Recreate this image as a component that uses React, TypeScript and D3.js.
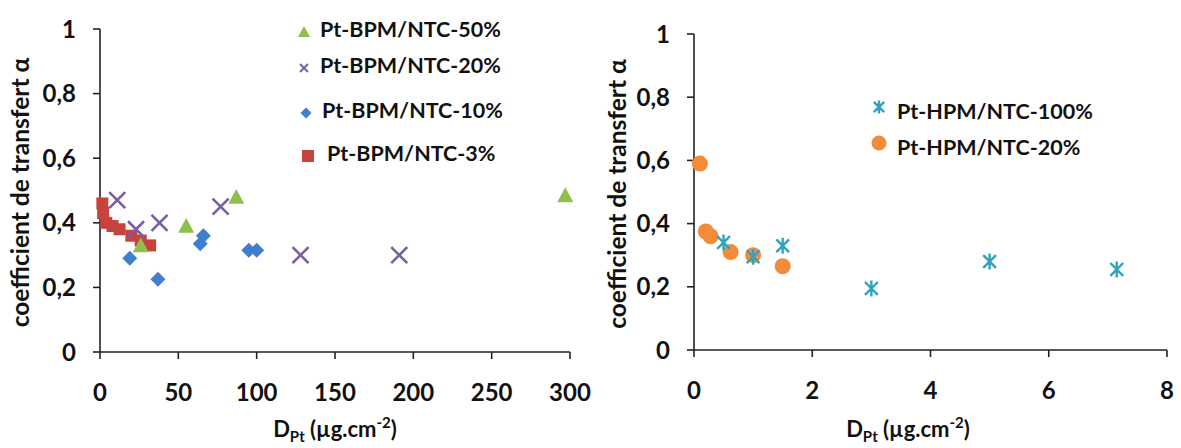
import React from "react";
import * as d3 from "d3";

// ---- Data (left panel: Pt-BPM/NTC) ----
const bpm50X = [26, 55, 87, 297];
const bpm50Y = [0.33, 0.39, 0.48, 0.485];
const bpm20X = [11, 23, 38, 77, 128, 191];
const bpm20Y = [0.47, 0.38, 0.4, 0.45, 0.3, 0.3];
const bpm10X = [19, 37, 64, 66, 95, 100];
const bpm10Y = [0.29, 0.225, 0.335, 0.36, 0.315, 0.315];
const bpm3X = [1.5, 2, 4, 8, 12.5, 20, 26, 32];
const bpm3Y = [0.46, 0.43, 0.4, 0.39, 0.38, 0.36, 0.345, 0.33];

// ---- Data (right panel: Pt-HPM/NTC) ----
const hpm100X = [0.5, 1.0, 1.5, 3.0, 5.0, 7.15];
const hpm100Y = [0.34, 0.295, 0.33, 0.195, 0.28, 0.255];
const hpm20X = [0.1, 0.2, 0.28, 0.62, 1.0, 1.5];
const hpm20Y = [0.59, 0.375, 0.36, 0.31, 0.3, 0.265];

const leftXTicks = [0, 50, 100, 150, 200, 250, 300];
const rightXTicks = [0, 2, 4, 6, 8];
const yTicks = [0, 0.2, 0.4, 0.6, 0.8, 1];

const legendLeft = ["Pt-BPM/NTC-50%", "Pt-BPM/NTC-20%", "Pt-BPM/NTC-10%", "Pt-BPM/NTC-3%"];
const legendRight = ["Pt-HPM/NTC-100%", "Pt-HPM/NTC-20%"];

const yTitle = "coefficient de transfert α";

const C = {
  green: "#8FBF4F",
  purple: "#7B5DA6",
  blue: "#3F7FCB",
  red: "#C8423F",
  teal: "#33A2BC",
  orange: "#F28B3A",
  axis: "#222",
};

const FONT = "Lato, 'Open Sans', sans-serif";

const fmt = (v: number) => (v === 0 || v === 1 ? String(v) : d3.format(".1f")(v).replace(".", ","));

type MarkerKind = "tri" | "x" | "diamond" | "square" | "star" | "circle";

function Marker({ kind, x, y, s }: { kind: MarkerKind; x: number; y: number; s: number }) {
  const h = s / 2;
  switch (kind) {
    case "tri":
      return <path d={`M${x},${y - h}L${x + h},${y + h * 0.85}L${x - h},${y + h * 0.85}Z`} fill={C.green} />;
    case "x":
      return (
        <path
          d={`M${x - h},${y - h}L${x + h},${y + h}M${x - h},${y + h}L${x + h},${y - h}`}
          stroke={C.purple}
          strokeWidth={s > 10 ? 2.6 : 2}
          fill="none"
        />
      );
    case "diamond":
      return <path d={`M${x},${y - h}L${x + h},${y}L${x},${y + h}L${x - h},${y}Z`} fill={C.blue} />;
    case "square":
      return <rect x={x - h} y={y - h} width={s} height={s} fill={C.red} />;
    case "star":
      return (
        <path
          d={`M${x - h * 0.8},${y - h * 0.8}L${x + h * 0.8},${y + h * 0.8}M${x - h * 0.8},${y + h * 0.8}L${x + h * 0.8},${y - h * 0.8}M${x},${y - h}L${x},${y + h}`}
          stroke={C.teal}
          strokeWidth={2.4}
          fill="none"
        />
      );
    case "circle":
      return <circle cx={x} cy={y} r={h} fill={C.orange} />;
  }
}

function Axes({
  x,
  y,
  xTicks,
  titleX,
  yTitleX,
}: {
  x: d3.ScaleLinear<number, number>;
  y: d3.ScaleLinear<number, number>;
  xTicks: number[];
  titleX: number;
  yTitleX: number;
}) {
  const [x0] = x.range();
  const [y0, y1] = y.range();
  const x1 = x.range()[1];
  return (
    <g fontFamily={FONT} fontWeight="bold" fill="#111">
      <line x1={x0} x2={x0} y1={y0} y2={y1} stroke={C.axis} strokeWidth={1.6} />
      <line x1={x0} x2={x1} y1={y0} y2={y0} stroke={C.axis} strokeWidth={1.6} />
      {yTicks.map((t) => (
        <g key={"y" + t}>
          <line x1={x0 - 7} x2={x0} y1={y(t)} y2={y(t)} stroke={C.axis} strokeWidth={1.6} />
          <text x={x0 - 24} y={y(t)} dy="0.36em" textAnchor="end" fontSize={24}>
            {fmt(t)}
          </text>
        </g>
      ))}
      {xTicks.map((t) => (
        <g key={"x" + t}>
          <line x1={x(t)} x2={x(t)} y1={y0} y2={y0 + 7} stroke={C.axis} strokeWidth={1.6} />
          <text x={x(t)} y={y0 + 40} dy="0.36em" textAnchor="middle" fontSize={24}>
            {t}
          </text>
        </g>
      ))}
      <text
        transform={`translate(${yTitleX},${(y0 + y1) / 2 + 2}) rotate(-90)`}
        textAnchor="middle"
        fontSize={24.5}
        dy="0.36em"
      >
        {yTitle}
      </text>
      <text x={titleX} y={437} textAnchor="middle" fontSize={22}>
        D<tspan fontSize={15} dy={5}>Pt</tspan>
        <tspan dy={-5}> (µg.cm</tspan>
        <tspan fontSize={15} dy={-9}>-2</tspan>
        <tspan dy={9}>)</tspan>
      </text>
    </g>
  );
}

export default function App() {
  const xL = d3.scaleLinear().domain([0, 300]).range([100, 570]);
  const yL = d3.scaleLinear().domain([0, 1]).range([352, 29]);
  const xR = d3.scaleLinear().domain([0, 8]).range([694, 1167]);
  const yR = d3.scaleLinear().domain([0, 1]).range([350, 34]);

  const leftSeries: { xs: number[]; ys: number[]; kind: MarkerKind; s: number }[] = [
    { xs: bpm3X, ys: bpm3Y, kind: "square", s: 12 },
    { xs: bpm10X, ys: bpm10Y, kind: "diamond", s: 15 },
    { xs: bpm20X, ys: bpm20Y, kind: "x", s: 16 },
    { xs: bpm50X, ys: bpm50Y, kind: "tri", s: 16 },
  ];
  const rightSeries: { xs: number[]; ys: number[]; kind: MarkerKind; s: number }[] = [
    { xs: hpm20X, ys: hpm20Y, kind: "circle", s: 16 },
    { xs: hpm100X, ys: hpm100Y, kind: "star", s: 16 },
  ];

  const legL: { kind: MarkerKind; s: number; y: number; mx: number; tx: number }[] = [
    { kind: "tri", s: 12, y: 29, mx: 304, tx: 320 },
    { kind: "x", s: 8, y: 65, mx: 304, tx: 320 },
    { kind: "diamond", s: 11, y: 110, mx: 306, tx: 322 },
    { kind: "square", s: 12, y: 153, mx: 308, tx: 327 },
  ];
  const legR: { kind: MarkerKind; s: number; y: number; mx: number; tx: number }[] = [
    { kind: "star", s: 13, y: 107, mx: 879, tx: 897 },
    { kind: "circle", s: 15, y: 143, mx: 879, tx: 897 },
  ];

  return (
    <svg width={1181} height={448} style={{ display: "block", position: "absolute", left: 0, top: 0, background: "#fff" }}>
      <rect width={1181} height={448} fill="#fff" />
      <Axes x={xL} y={yL} xTicks={leftXTicks} titleX={335} yTitleX={20} />
      <Axes x={xR} y={yR} xTicks={rightXTicks} titleX={908} yTitleX={617} />
      {leftSeries.map((s, i) => (
        <g key={"l" + i}>
          {s.xs.map((v, j) => (
            <Marker key={j} kind={s.kind} x={xL(v)} y={yL(s.ys[j])} s={s.s} />
          ))}
        </g>
      ))}
      {rightSeries.map((s, i) => (
        <g key={"r" + i}>
          {s.xs.map((v, j) => (
            <Marker key={j} kind={s.kind} x={xR(v)} y={yR(s.ys[j])} s={s.s} />
          ))}
        </g>
      ))}
      <g fontFamily={FONT} fontWeight="bold" fontSize={21.5} fill="#111">
        {legL.map((l, i) => (
          <g key={"ll" + i}>
            <Marker kind={l.kind} x={l.mx} y={l.y + 3} s={l.s} />
            <text x={l.tx} y={l.y} dy="0.36em">
              {legendLeft[i]}
            </text>
          </g>
        ))}
        {legR.map((l, i) => (
          <g key={"lr" + i}>
            <Marker kind={l.kind} x={l.mx} y={l.y} s={l.s} />
            <text x={l.tx} y={l.y + 4} dy="0.36em">
              {legendRight[i]}
            </text>
          </g>
        ))}
      </g>
    </svg>
  );
}
